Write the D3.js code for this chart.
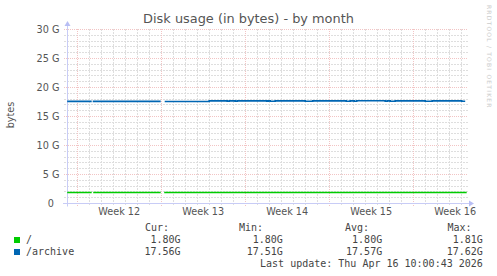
<!DOCTYPE html>
<html>
<head>
<meta charset="utf-8">
<script src="https://cdn.jsdelivr.net/npm/d3@7"></script>
<style>
  body { margin: 0; background: #fff; }
  svg { display: block; }
</style>
</head>
<body>
<div id="chart"></div>
<script>
var width = 497, height = 276
var plot = {left: 67, top: 29, width: 400, height: 174}

// time axis: hours counted from Monday 16 Mar 2026 00:00
var weekStart = Date.UTC(2026, 2, 16)
var hoursShown = [-19.4, 780.6]

// step changes of each series (hour, value in G); null = no data
var rootHours  = [-19, 7, 30, 33, 62, 168, 175, 200, 212, 342, 389, 393, 397, 510, 527, 780]
var rootValues = [1.81, 1.80, null, 1.80, 1.81, null, 1.81, 1.80, 1.81, 1.80, 1.81, 1.80, 1.81, 1.80, 1.81, 1.81]

var archiveHours  = [-19, 30, 32, 168, 176, 265, 301, 305, 317, 321, 380, 383, 387, 397, 457, 472,
                     539, 547, 555, 560, 617, 621, 627, 637, 697, 711, 770, 777]
var archiveValues = [17.52, null, 17.52, null, 17.51, 17.60, 17.54, 17.60, 17.54, 17.60, 17.55, 17.60, 17.54, 17.60, 17.54, 17.61,
                     17.54, 17.61, 17.54, 17.62, 17.55, 17.61, 17.54, 17.61, 17.54, 17.61, 17.54, 17.54]

var seriesNames  = ["/", "/archive"]
var seriesColors = ["#00cc00", "#0066b3"]
var statHeaders  = ["Cur:", "Min:", "Avg:", "Max:"]
var rootStats    = ["1.80G", "1.80G", "1.80G", "1.81G"]
var archiveStats = ["17.56G", "17.51G", "17.57G", "17.62G"]
var lastUpdate   = "Last update: Thu Apr 16 10:00:43 2026"

var hour = 3600 * 1000
function toDate(h) { return new Date(weekStart + h * hour) }

var svg = d3.select("#chart").append("svg")
    .attr("width", width)
    .attr("height", height)

svg.append("rect").attr("width", width).attr("height", height).attr("fill", "#fff")

var x = d3.scaleUtc()
    .domain(hoursShown.map(toDate))
    .range([plot.left, plot.left + plot.width])

var y = d3.scaleLinear()
    .domain([0, 30])
    .range([plot.top + plot.height, plot.top])

// grid
var minorColor = "#dedede", majorColor = "#f2c4c4"
var grid = svg.append("g").attr("shape-rendering", "crispEdges")
var days = d3.utcDay.range(x.domain()[0], x.domain()[1])
var mondays = d3.utcMonday.range(x.domain()[0], x.domain()[1])

grid.selectAll(".vminor")
    .data(days.filter(function(d) { return d.getUTCDay() != 1 }))
    .enter().append("line")
    .attr("x1", function(d) { return Math.round(x(d)) + 0.5 })
    .attr("x2", function(d) { return Math.round(x(d)) + 0.5 })
    .attr("y1", plot.top)
    .attr("y2", plot.top + plot.height + 2)
    .attr("stroke", minorColor)
    .attr("stroke-dasharray", "2,1")

grid.selectAll(".hminor")
    .data(y.ticks(30).filter(function(d) { return d % 5 != 0 }))
    .enter().append("line")
    .attr("x1", plot.left - 3)
    .attr("x2", plot.left + plot.width + 1)
    .attr("y1", function(d) { return Math.round(y(d)) + 0.5 })
    .attr("y2", function(d) { return Math.round(y(d)) + 0.5 })
    .attr("stroke", minorColor)
    .attr("stroke-dasharray", "2,1")

grid.selectAll(".vmajor")
    .data(mondays)
    .enter().append("line")
    .attr("x1", function(d) { return Math.round(x(d)) + 0.5 })
    .attr("x2", function(d) { return Math.round(x(d)) + 0.5 })
    .attr("y1", plot.top)
    .attr("y2", plot.top + plot.height + 3)
    .attr("stroke", majorColor)
    .attr("stroke-dasharray", "1,1")

grid.selectAll(".hmajor")
    .data(y.ticks(6).filter(function(d) { return d > 0 }))
    .enter().append("line")
    .attr("x1", plot.left - 3)
    .attr("x2", plot.left + plot.width + 1)
    .attr("y1", function(d) { return Math.round(y(d)) + 0.5 })
    .attr("y2", function(d) { return Math.round(y(d)) + 0.5 })
    .attr("stroke", majorColor)
    .attr("stroke-dasharray", "1,1")

// axes lines with arrows
var axisColor = "#c8ccf6"
var x0 = plot.left + 0.5, y0 = Math.round(y(0)) + 0.5
svg.append("line").attr("x1", plot.left - 4).attr("x2", plot.left + plot.width + 3)
    .attr("y1", y0).attr("y2", y0).attr("stroke", axisColor)
svg.append("line").attr("x1", x0).attr("x2", x0)
    .attr("y1", y0 + 3).attr("y2", plot.top - 4).attr("stroke", axisColor)
svg.append("path")
    .attr("d", "M" + (plot.left + plot.width + 2) + "," + (y0 - 3) + "L" + (plot.left + plot.width + 7) + "," + y0 +
               "L" + (plot.left + plot.width + 2) + "," + (y0 + 3) + "Z")
    .attr("fill", "#b8bef4")
svg.append("path")
    .attr("d", "M" + (x0 - 3) + "," + (plot.top - 3) + "L" + x0 + "," + (plot.top - 8) +
               "L" + (x0 + 3) + "," + (plot.top - 3) + "Z")
    .attr("fill", "#b8bef4")

// axis labels
var xAxis = d3.axisBottom(x)
    .tickValues(mondays.map(function(d) { return new Date(+d + 84 * hour) }))
    .tickFormat(function(d) { return "Week " + d3.utcFormat("%V")(d) })
    .tickSize(0)
    .tickPadding(5)

var gx = svg.append("g")
    .attr("transform", "translate(0," + (plot.top + plot.height) + ")")
    .call(xAxis)
gx.select(".domain").remove()
gx.selectAll("text")
    .attr("fill", "#555")
    .style("font-family", "DejaVu Sans")
    .style("font-size", "9.7px")

var yAxis = d3.axisLeft(y)
    .tickValues(y.ticks(6))
    .tickFormat(function(d) { return d == 0 ? "0" : d + " G" })
    .tickSize(0)
    .tickPadding(8)

var gy = svg.append("g")
    .attr("transform", "translate(" + plot.left + ",0)")
    .call(yAxis)
gy.select(".domain").remove()
gy.selectAll("text")
    .attr("fill", "#555")
    .attr("x", function(d) { return d == 0 ? -13 : -7.5 })
    .attr("dy", "0.36em")
    .style("font-family", "DejaVu Sans")
    .style("font-size", "9.7px")

svg.append("text")
    .attr("transform", "translate(13.5," + (plot.top + plot.height / 2 - 1) + ") rotate(-90)")
    .attr("text-anchor", "middle")
    .attr("fill", "#555")
    .style("font-family", "DejaVu Sans")
    .style("font-size", "9.7px")
    .text("bytes")

// title and watermark
svg.append("text")
    .attr("x", 248.5)
    .attr("y", 23)
    .attr("text-anchor", "middle")
    .attr("fill", "#555")
    .style("font-family", "DejaVu Sans")
    .style("font-size", "12.9px")
    .text("Disk usage (in bytes) - by month")

svg.append("text")
    .attr("transform", "translate(487,5) rotate(90)")
    .attr("fill", "#cccccc")
    .style("font-family", "DejaVu Sans")
    .style("font-size", "6px")
    .style("letter-spacing", "1.2px")
    .text("RRDTOOL / TOBI OETIKER")

// series
function stepPoints(hours, values) {
    var pts = []
    for (var i = 0; i < hours.length - 1; i++) {
        if (values[i] == null) { pts.push(null); continue }
        pts.push({t: hours[i], v: values[i]}, {t: hours[i + 1], v: values[i]})
    }
    return pts
}

var line = d3.line()
    .defined(function(d) { return d != null })
    .x(function(d) { return x(toDate(d.t)) })
    .y(function(d) { return y(d.v) })

var series = [stepPoints(rootHours, rootValues), stepPoints(archiveHours, archiveValues)]

svg.selectAll(".series")
    .data(series)
    .enter().append("path")
    .attr("d", line)
    .attr("fill", "none")
    .attr("stroke", function(d, i) { return seriesColors[i] })
    .attr("stroke-width", 1.6)

// legend
var mono = "DejaVu Sans Mono"
var headerX = [145, 239, 345, 447.5]
var valueX = [180.5, 282.8, 382.2, 482.8]

svg.selectAll(".hdr")
    .data(statHeaders)
    .enter().append("text")
    .attr("x", function(d, i) { return headerX[i] })
    .attr("y", 231)
    .attr("fill", "#444")
    .style("font-family", mono)
    .style("font-size", "10px")
    .text(function(d) { return d })

var rows = svg.selectAll(".row")
    .data(seriesNames)
    .enter().append("g")
    .attr("transform", function(d, i) { return "translate(0," + (243.3 + i * 12) + ")" })

rows.append("rect")
    .attr("x", 14)
    .attr("y", -6.3)
    .attr("width", 6)
    .attr("height", 6)
    .attr("fill", function(d, i) { return seriesColors[i] })

rows.append("text")
    .attr("x", 26)
    .attr("fill", "#444")
    .style("font-family", mono)
    .style("font-size", "10px")
    .text(function(d) { return d })

rows.selectAll(".stat")
    .data(function(d, i) { return i == 0 ? rootStats : archiveStats })
    .enter().append("text")
    .attr("x", function(d, i) { return valueX[i] })
    .attr("text-anchor", "end")
    .attr("fill", "#444")
    .style("font-family", mono)
    .style("font-size", "10px")
    .text(function(d) { return d })

svg.append("text")
    .attr("x", 482.8)
    .attr("y", 266.5)
    .attr("text-anchor", "end")
    .attr("fill", "#444")
    .style("font-family", mono)
    .style("font-size", "10px")
    .text(lastUpdate)
</script>
</body>
</html>
